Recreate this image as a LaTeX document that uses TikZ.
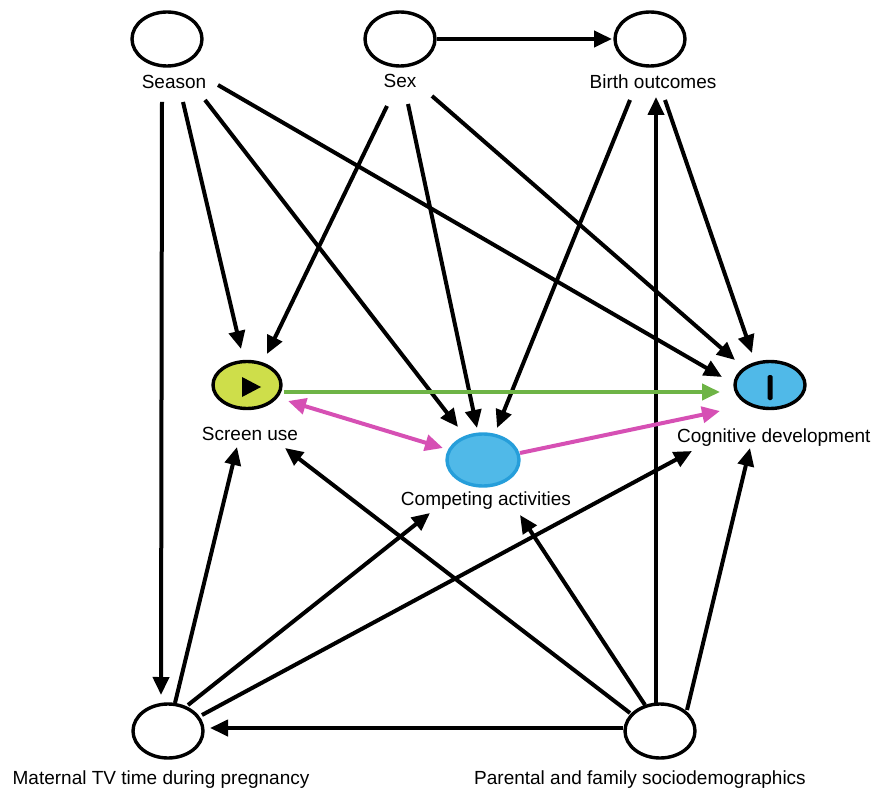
\documentclass[tikz,border=0pt]{standalone}
\usepackage{fontspec}
\setmainfont{Liberation Sans}
\usetikzlibrary{shapes.geometric,arrows.meta,calc}
\definecolor{scrfill}{RGB}{206,222,74}
\definecolor{bluefill}{RGB}{80,185,232}
\definecolor{blueline}{RGB}{38,158,218}
\definecolor{greenline}{RGB}{110,180,70}
\definecolor{magline}{RGB}{214,80,180}
\tikzset{
  var/.style={ellipse,draw,line width=3.4pt,minimum width=70pt,minimum height=54pt,inner sep=0pt},
  lab/.style={anchor=base,inner sep=0pt,font=\fontsize{19}{23}\selectfont},
  tipA/.tip={Triangle[length=18pt,width=16pt]},
  arr/.style={line width=4pt,-tipA},
  darr/.style={line width=4pt,tipA-tipA}
}
\begin{document}
\begin{tikzpicture}[x=1pt,y=-1pt]
\useasboundingbox (0,0) rectangle (872,791);
% variables
\node[var] (seasonE) at (167,39) {};
\node[lab] (seasonL) at (174,89) {Season};
\node[var] (sexE) at (400,39) {};
\node[lab] (sexL) at (400,88) {Sex};
\node[var] (birthE) at (650,39) {};
\node[lab] (birthL) at (653,89) {Birth outcomes};
\node[var,fill=scrfill,minimum width=68pt,minimum height=47pt] (scrE) at (247,385) {};
\node[lab] (scrL) at (250,440) {Screen use};
\node[var,fill=bluefill,minimum width=70pt,minimum height=47pt] (cogE) at (770,385) {};
\node[lab,anchor=base west] (cogL) at (677,442) {Cognitive development};
\node[var,draw=blueline,fill=bluefill,minimum width=72pt,minimum height=52pt] (compE) at (483,460) {};
\node[lab] (compL) at (486,505) {Competing activities};
\node[var] (matE) at (168,731) {};
\node[lab] (matL) at (161,784) {Maternal TV time during pregnancy};
\node[var] (parE) at (660,731) {};
\node[lab] (parL) at (640,784) {Parental and family sociodemographics};
% icons
\fill[black] ($(scrE)+(-5,-8)$) -- ($(scrE)+(-5,12)$) -- ($(scrE)+(14,2)$) -- cycle;
\fill[black,rounded corners=1.5pt] ($(cogE)+(-2.5,-10)$) rectangle ($(cogE)+(2.5,15)$);
% edges
\draw[arr] ($(seasonE)+(-5,63)$) -- ($(matE)+(-7,-36)$);
\draw[arr] ($(seasonE)+(16,63)$) -- ($(scrE)+(-6,-36)$);
\draw[arr] ($(seasonE)+(38,61)$) -- ($(compE)+(-25,-33)$);
\draw[arr] ($(seasonE)+(51,46)$) -- ($(cogE)+(-48,-8)$);
\draw[arr] ($(sexE)+(37,0)$) -- ($(birthE)+(-38,0)$);
\draw[arr] ($(sexE)+(-13,67)$) -- ($(scrE)+(20,-31)$);
\draw[arr] ($(sexE)+(8,65)$) -- ($(compE)+(-6,-32)$);
\draw[arr] ($(sexE)+(32,57)$) -- ($(cogE)+(-35,-25)$);
\draw[arr] ($(birthE)+(-20,61)$) -- ($(compE)+(14,-32)$);
\draw[arr] ($(birthE)+(15,61)$) -- ($(cogE)+(-18,-32)$);
\draw[arr] ($(parE)+(-4,-28)$) -- ($(birthE)+(6,58)$);
\draw[arr,greenline] ($(scrE)+(37,7)$) -- ($(cogE)+(-50,7)$);
\draw[darr,magline] ($(scrE)+(41,16)$) -- ($(compE)+(-40,-12)$);
\draw[arr,magline] ($(compE)+(37,-7)$) -- ($(cogE)+(-50,26)$);
\draw[arr] ($(matE)+(7,-28)$) -- ($(scrE)+(-10,62)$);
\draw[arr] ($(matE)+(20,-26)$) -- ($(compE)+(-53,53)$);
\draw[arr] ($(matE)+(34,-16)$) -- ($(cogE)+(-78,66)$);
\draw[arr] ($(parE)+(-37,-3)$) -- ($(matE)+(42,-3)$);
\draw[arr] ($(parE)+(-30,-18)$) -- ($(scrE)+(38,63)$);
\draw[arr] ($(parE)+(-15,-26)$) -- ($(compE)+(37,55)$);
\draw[arr] ($(parE)+(27,-21)$) -- ($(cogE)+(-20,63)$);
\end{tikzpicture}
\end{document}
